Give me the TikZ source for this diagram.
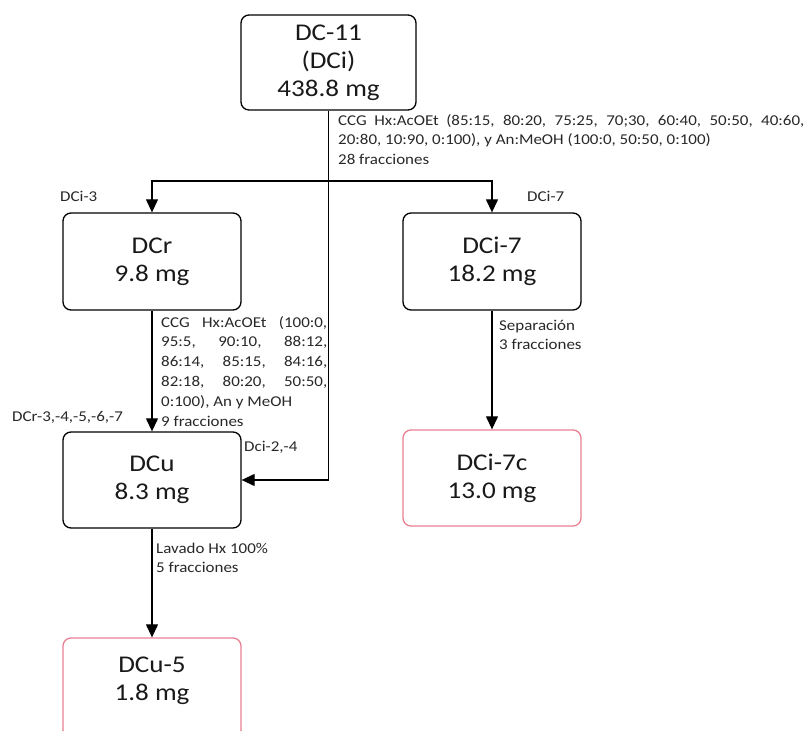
\documentclass[tikz,border=0pt]{standalone}
\usepackage{fontspec}
\setmainfont{Carlito}[FakeStretch=1.13]
\usetikzlibrary{arrows.meta}
\definecolor{pinkb}{RGB}{232,128,146}
\definecolor{txt}{RGB}{40,40,40}
\newcommand{\lines}[1]{\begin{tabular}[t]{@{}l@{}}#1\end{tabular}}
\begin{document}
\begin{tikzpicture}[x=1pt,y=-1pt,
  box/.style={draw=black, line width=1.3pt, rounded corners=8pt, align=center,
    font=\fontsize{24}{28}\selectfont, inner sep=0pt, text=black!90},
  pbox/.style={box, draw=pinkb},
  lbl/.style={font=\fontsize{15}{19.8}\selectfont, text=txt, inner sep=0pt, anchor=base west},
  arr/.style={line width=1.2pt, -{Triangle[length=13pt,width=12pt]}},
  ln/.style={line width=1.2pt}]
\useasboundingbox (0,0) rectangle (807,731);
\node[box, minimum width=175pt, minimum height=95pt] (dc11) at (328.5,62.5) {DC-11\\(DCi)\\438.8 mg};
\node[box, minimum width=178pt, minimum height=97pt] (dcr) at (152,261.5) {DCr\\9.8 mg};
\node[box, minimum width=178pt, minimum height=97pt] (dci7) at (492,261.5) {DCi-7\\18.2 mg};
\node[pbox, minimum width=178pt, minimum height=96pt] (dci7c) at (492,478) {DCi-7c\\13.0 mg};
\node[box, minimum width=178pt, minimum height=96pt] (dcu) at (152,480) {DCu\\8.3 mg};
\node[pbox, minimum width=178pt, minimum height=100pt] (dcu5) at (152,688) {};
\node[font=\fontsize{24}{28}\selectfont, align=center, inner sep=0pt, text=black!90] (dcu5t) at (152,681) {DCu-5\\1.8 mg};

\coordinate (br) at (328.5,181);
\draw[ln] (dc11.south) -- (br);
\draw[arr] (br) -| (dcr.north);
\draw[arr] (br) -| (dci7.north);
\draw[arr] (dc11.south) |- (dcu.east);
\draw[arr] (dcr.south) -- (dcu.north);
\draw[arr] (dci7.south) -- (dci7c.north);
\draw[arr] (dcu.south) -- (dcu5.north);

\node[lbl] (l1) at (338,125) {\lines{\makebox[466pt][s]{CCG Hx:AcOEt (85:15, 80:20, 75:25, 70;30, 60:40, 50:50, 40:60,}\\20:80, 10:90, 0:100), y An:MeOH (100:0, 50:50, 0:100)\\28 fracciones}};
\node[lbl] (l2) at (60,201) {DCi-3};
\node[lbl] (l3) at (527,201) {DCi-7};
\node[lbl] (l4) at (161,327) {\lines{\makebox[166pt][s]{CCG Hx:AcOEt (100:0,}\\\makebox[166pt][s]{95:5, 90:10, 88:12,}\\\makebox[166pt][s]{86:14, 85:15, 84:16,}\\\makebox[166pt][s]{82:18, 80:20, 50:50,}\\0:100), An y MeOH\\9 fracciones}};
\node[lbl] (l5) at (12,421) {DCr-3,-4,-5,-6,-7};
\node[lbl] (l6) at (244,451) {Dci-2,-4};
\node[lbl] (l7) at (499,330) {\lines{Separación\\3 fracciones}};
\node[lbl] (l8) at (156,553) {\lines{Lavado Hx 100\%\\5 fracciones}};
\end{tikzpicture}
\end{document}
